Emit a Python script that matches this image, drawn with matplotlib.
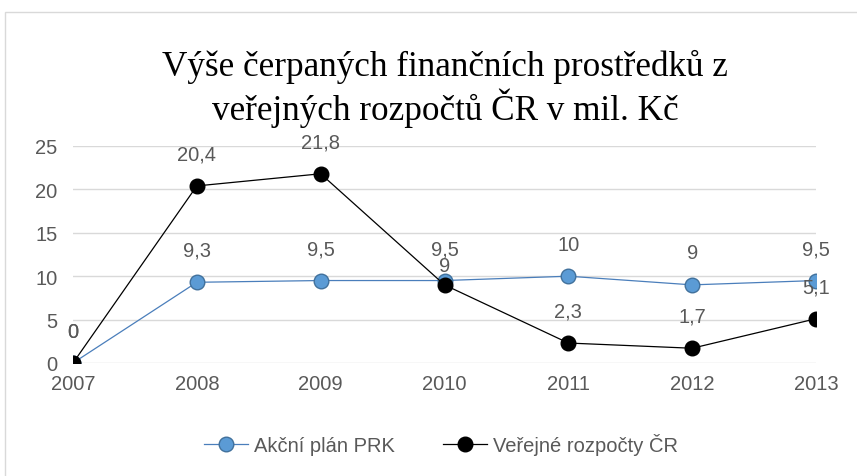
import matplotlib
matplotlib.use("Agg")
import matplotlib.pyplot as plt
from matplotlib.patches import Rectangle

# data
years = ["2007", "2008", "2009", "2010", "2011", "2012", "2013"]
akcni_plan = [0, 9.3, 9.5, 9.5, 10, 9, 9.5]
verejne = [0, 20.4, 21.8, 9, 2.3, 1.7, 5.1]
y_ticks = [0, 5, 10, 15, 20, 25]

TEXT_COLOR = "#595959"
GRID_COLOR = "#D9D9D9"
BLUE_LINE = "#4A7EBB"
BLUE_FACE = "#5B9BD5"
BLUE_EDGE = "#41719C"

plt.rcParams['font.family'] = ['Liberation Sans', 'DejaVu Sans']

fig = plt.figure(figsize=(8.57, 4.77), dpi=100)
ax = fig.add_axes([73 / 857, 1 - 364 / 477, (816 - 73) / 857, (364 - 147) / 477])

# chart area border (cut off at right / bottom)
fig.patches.append(Rectangle((5 / 857, -0.1), 1.2, 1 - 13 / 477 + 0.1,
                             transform=fig.transFigure, fill=False,
                             edgecolor=GRID_COLOR, linewidth=1.0))

x = list(range(len(years)))
ax.plot(x, akcni_plan, color=BLUE_LINE, linewidth=0.9, marker='o', markersize=10.5,
        markerfacecolor=BLUE_FACE, markeredgecolor=BLUE_EDGE, markeredgewidth=1.0,
        label="Akční plán PRK", zorder=3)
ax.plot(x, verejne, color="black", linewidth=0.9, marker='o', markersize=10.5,
        markerfacecolor="black", markeredgecolor="black",
        label="Veřejné rozpočty ČR", zorder=4)

def fmt(v):
    return f"{v:g}".replace(".", ",")

# data labels (Excel moved the 2010 black label a bit down)
for i, v in enumerate(akcni_plan):
    ax.annotate(fmt(v), (i, v), xytext=(0, 23), textcoords="offset points",
                ha="center", va="center", fontsize=14.5, color=TEXT_COLOR, zorder=5)
for i, v in enumerate(verejne):
    dy = 14 if i == 3 else 23
    ax.annotate(fmt(v), (i, v), xytext=(0, dy), textcoords="offset points",
                ha="center", va="center", fontsize=14.5, color=TEXT_COLOR, zorder=5)

ax.set_xlim(0, len(years) - 1)
ax.set_ylim(0, 25)
ax.set_yticks(y_ticks)
ax.set_xticks(x)
ax.set_xticklabels(years)
ax.yaxis.grid(True, color=GRID_COLOR, linewidth=1.0)
ax.set_axisbelow(True)
for s in ax.spines.values():
    s.set_visible(False)
ax.tick_params(axis="both", length=0, labelsize=14.5, labelcolor=TEXT_COLOR)
ax.tick_params(axis="y", pad=11)
ax.tick_params(axis="x", pad=8)
for lab in ax.get_xticklabels() + ax.get_yticklabels():
    lab.set_clip_on(False)

fig.text(445 / 857, 1 - 89 / 477,
         "Výše čerpaných finančních prostředků z\nveřejných rozpočtů ČR v mil. Kč",
         ha="center", va="center", fontsize=25.3, family="Liberation Serif",
         color="black", linespacing=1.14)

leg = fig.legend(loc="center", bbox_to_anchor=(441 / 857, 1 - 445 / 477), ncol=2,
                 frameon=False, fontsize=14.5, handlelength=2.2, handletextpad=0.3,
                 columnspacing=2.4)
for t in leg.get_texts():
    t.set_color(TEXT_COLOR)

fig.savefig("out.png", dpi=100)
